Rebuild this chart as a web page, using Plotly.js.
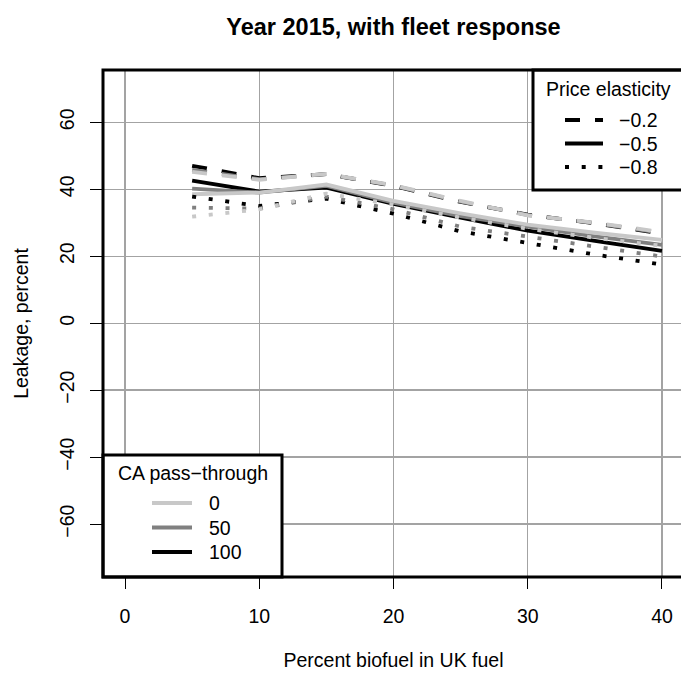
<!DOCTYPE html>
<html>
<head>
<meta charset="utf-8">
<script src="https://cdn.plot.ly/plotly-3.0.1.min.js"></script>
<style>
  html, body { margin: 0; padding: 0; overflow: hidden; background: #fff; }
  #chart { width: 688px; height: 675px; }
</style>
</head>
<body>
<div id="chart"></div>
<script>
// Biofuel share in UK fuel (percent)
const biofuelPct = [5, 10, 15, 20, 25, 30, 35, 40];

// Leakage (percent) by price elasticity and CA pass-through
const elas02_pt100 = [47.0, 43.3, 44.5, 41.0, 36.2, 32.4, 29.8, 26.7];
const elas02_pt50  = [45.8, 43.0, 44.5, 41.1, 36.3, 32.3, 29.9, 26.9];
const elas02_pt0   = [45.2, 42.8, 44.6, 41.2, 36.5, 32.2, 30.0, 27.2];

const elas05_pt100 = [42.6, 39.3, 40.5, 35.6, 31.5, 27.6, 24.6, 21.6];
const elas05_pt50  = [40.2, 39.0, 41.0, 36.0, 32.0, 28.8, 25.9, 23.4];
const elas05_pt0   = [38.5, 39.0, 41.4, 36.5, 32.8, 29.4, 27.0, 24.9];

const elas08_pt100 = [37.8, 35.0, 37.2, 32.7, 27.4, 24.0, 20.5, 17.5];
const elas08_pt50  = [34.5, 34.2, 37.8, 34.0, 28.8, 25.8, 22.8, 19.9];
const elas08_pt0   = [31.8, 34.0, 38.7, 35.4, 31.5, 28.2, 25.5, 23.1];

// Legend labels and axis ticks
const elasticityLabels = ['\u22120.2', '\u22120.5', '\u22120.8'];
const passThroughLabels = ['0', '50', '100'];
const xTicks = [0, 10, 20, 30, 40];
const yTicks = [-60, -40, -20, 0, 20, 40, 60];

const FONT = 'Liberation Sans, Arial, Helvetica, sans-serif';
const passColors = { '100': '#000000', '50': '#808080', '0': '#c8c8c8' };
const elasDash = { '-0.2': '15px,15px', '-0.5': 'solid', '-0.8': '4px,12.7px' };

const groups = [
  ['-0.2', { '100': elas02_pt100, '50': elas02_pt50, '0': elas02_pt0 }],
  ['-0.5', { '100': elas05_pt100, '50': elas05_pt50, '0': elas05_pt0 }],
  ['-0.8', { '100': elas08_pt100, '50': elas08_pt50, '0': elas08_pt0 }]
];

const traces = [];
groups.forEach(([e, byPt]) => {
  ['100', '50', '0'].forEach(pt => {
    traces.push({
      type: 'scatter', mode: 'lines',
      x: biofuelPct, y: byPt[pt],
      name: 'elasticity ' + e + ', pass-through ' + pt,
      line: { color: passColors[pt], width: 3.8, dash: elasDash[e] },
      showlegend: false, hoverinfo: 'x+y'
    });
  });
});

// Plot-area pixel frame, used to place the two legend boxes
const W = 688, H = 675;
const M = { l: 103, r: 4, t: 70, b: 98 };
const PL = M.l, PR = W - M.r, PT = M.t, PB = H - M.b;
const fx = px => (px - PL) / (PR - PL);
const fy = py => (PB - py) / (PB - PT);

const shapes = [];
const annotations = [];

// Price elasticity legend (top right)
shapes.push({ type: 'rect', xref: 'paper', yref: 'paper', x0: fx(533), x1: 1.02, y0: fy(190), y1: 1,
  fillcolor: '#ffffff', line: { color: '#000', width: 3 } });
annotations.push({ xref: 'paper', yref: 'paper', x: fx(544), y: fy(89), xanchor: 'left', yanchor: 'middle',
  text: 'Price elasticity', showarrow: false, font: { family: FONT, size: 19.5, color: '#000' } });
const elasKeys = ['-0.2', '-0.5', '-0.8'];
const elasRows = [120, 143.5, 167];
elasKeys.forEach((k, i) => {
  shapes.push({ type: 'line', xref: 'paper', yref: 'paper', x0: fx(565), x1: fx(603), y0: fy(elasRows[i]), y1: fy(elasRows[i]),
    line: { color: '#000', width: 3.8, dash: elasDash[k] } });
  annotations.push({ xref: 'paper', yref: 'paper', x: fx(617), y: fy(elasRows[i]), xanchor: 'left', yanchor: 'middle',
    text: elasticityLabels[i], showarrow: false, font: { family: FONT, size: 19.5, color: '#000' } });
});

// CA pass-through legend (bottom left)
shapes.push({ type: 'rect', xref: 'paper', yref: 'paper', x0: 0, x1: fx(282), y0: 0, y1: fy(455),
  fillcolor: '#ffffff', line: { color: '#000', width: 3 } });
annotations.push({ xref: 'paper', yref: 'paper', x: fx(192.5), y: fy(473), xanchor: 'center', yanchor: 'middle',
  text: 'CA pass\u2212through', showarrow: false, font: { family: FONT, size: 19.5, color: '#000' } });
const ptRows = [503, 527.5, 552];
passThroughLabels.forEach((lab, i) => {
  shapes.push({ type: 'line', xref: 'paper', yref: 'paper', x0: fx(152), x1: fx(192), y0: fy(ptRows[i]), y1: fy(ptRows[i]),
    line: { color: passColors[lab], width: 3.8 } });
  annotations.push({ xref: 'paper', yref: 'paper', x: fx(207), y: fy(ptRows[i]), xanchor: 'left', yanchor: 'middle',
    text: lab, showarrow: false, font: { family: FONT, size: 19.5, color: '#000' } });
});

// Outer plot frame
shapes.push({ type: 'rect', xref: 'paper', yref: 'paper', x0: 0, x1: 1, y0: 0, y1: 1,
  line: { color: '#000', width: 3 } });

const layout = {
  width: W, height: H, margin: M,
  paper_bgcolor: '#fff', plot_bgcolor: '#fff',
  font: { family: FONT, size: 19.5, color: '#000' },
  title: { text: '<b>Year 2015, with fleet response</b>', font: { family: FONT, size: 23.5, color: '#000' },
    x: 0.5, xref: 'paper', xanchor: 'center', y: 1 - 27 / H, yanchor: 'middle' },
  xaxis: {
    range: [-1.64, 41.64], tickvals: xTicks, ticktext: xTicks.map(String),
    showgrid: true, gridcolor: '#a3a3a3', gridwidth: 1.3, zeroline: false, showline: false,
    ticks: 'outside', ticklen: 11, tickwidth: 1, tickcolor: '#000', ticklabelstandoff: 11,
    tickfont: { family: FONT, size: 19.5, color: '#000' },
    title: { text: 'Percent biofuel in UK fuel', font: { family: FONT, size: 19.5, color: '#000' }, standoff: 26 }
  },
  yaxis: {
    range: [-75.8, 75.6], tickvals: yTicks,
    ticktext: yTicks.map(v => (v < 0 ? '\u2212' + Math.abs(v) : String(v))),
    tickangle: -90,
    showgrid: true, gridcolor: '#a3a3a3', gridwidth: 1.3, zeroline: false, showline: false,
    ticks: 'outside', ticklen: 12, tickwidth: 1, tickcolor: '#000', ticklabelstandoff: 8,
    tickfont: { family: FONT, size: 19.5, color: '#000' },
    title: { text: 'Leakage, percent', font: { family: FONT, size: 19.5, color: '#000' }, standoff: 22 }
  },
  shapes: shapes,
  annotations: annotations,
  showlegend: false
};

Plotly.newPlot('chart', traces, layout, { displayModeBar: false, staticPlot: true });
</script>
</body>
</html>
